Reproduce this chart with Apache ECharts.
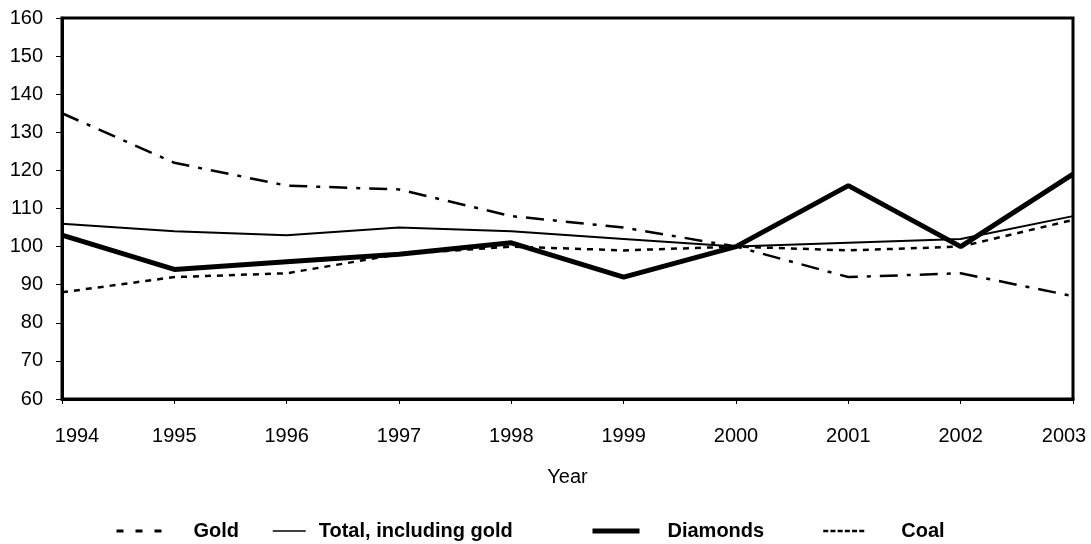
<!DOCTYPE html>
<html>
<head>
<meta charset="utf-8">
<script src="https://cdn.jsdelivr.net/npm/echarts@6/dist/echarts.min.js"></script>
<style>
  html, body { margin: 0; padding: 0; background: #fff; }
  #chart { width: 1091px; height: 544px; }
</style>
</head>
<body>
<div id="chart"></div>
<script>
const years = ['1994', '1995', '1996', '1997', '1998', '1999', '2000', '2001', '2002', '2003']
const gold = [88, 92, 93, 98, 100, 99, 100, 99, 100, 107]
const total = [106, 104, 103, 105, 104, 102, 100, 101, 102, 108]
const diamonds = [103, 94, 96, 98, 101, 92, 100, 116, 100, 119]
const coal = [135, 122, 116, 115, 108, 105, 100, 92, 93, 87]

const font = 'Arial, "Liberation Sans", sans-serif'
const chart = echarts.init(document.getElementById('chart'))

// one legend per series so each marker/text gap can be matched
function legendAt(left, name, itemWidth, lineStyle, pad) {
  return {
    left: left,
    top: 521,
    padding: 0,
    itemWidth: itemWidth,
    itemHeight: 12,
    data: [{ name: name, lineStyle: lineStyle, itemStyle: { opacity: 0 } }],
    selectedMode: false,
    textStyle: { fontFamily: font, fontSize: 20, fontWeight: 'bold', color: '#000', padding: [0, 0, 0, pad] }
  }
}

chart.setOption({
  animation: false,
  backgroundColor: '#fff',
  grid: { left: 62, right: 18, top: 18, bottom: 145, show: true, borderColor: '#000', borderWidth: 3 },
  legend: [
    legendAt(115, 'Gold', 45, { type: [7, 12], width: 3, color: '#000' }, 27),
    legendAt(272, 'Total, including gold', 33, { type: 'solid', width: 1.5, color: '#000' }, 8),
    legendAt(590, 'Diamonds', 47, { type: 'solid', width: 5, color: '#000' }, 23),
    legendAt(822, 'Coal', 41, { type: [5, 2.2], width: 2.5, color: '#000' }, 32)
  ],
  xAxis: {
    type: 'category',
    data: years,
    boundaryGap: false,
    name: 'Year',
    nameLocation: 'middle',
    nameGap: 68,
    nameTextStyle: { fontFamily: font, fontSize: 20, color: '#000' },
    axisLine: { lineStyle: { color: '#000', width: 3 } },
    axisTick: { show: true, interval: 0, length: 5, lineStyle: { color: '#000', width: 1 } },
    axisLabel: {
      interval: 0,
      fontFamily: font, fontSize: 20, color: '#000', margin: 27,
      formatter: (v, i) => i === 0 ? '{first|' + v + '}' : (i === years.length - 1 ? '{last|' + v + '}' : v),
      rich: {
        first: { fontFamily: font, fontSize: 20, color: '#000', padding: [0, 0, 0, 30] },
        last: { fontFamily: font, fontSize: 20, color: '#000', padding: [0, 18, 0, 0] }
      }
    },
    splitLine: { show: false }
  },
  yAxis: {
    type: 'value',
    min: 60,
    max: 160,
    interval: 10,
    axisLine: { show: true, lineStyle: { color: '#000', width: 3 } },
    axisTick: { show: true, length: 6, lineStyle: { color: '#000', width: 1 } },
    axisLabel: { fontFamily: font, fontSize: 20, color: '#000', margin: 19 },
    splitLine: { show: false }
  },
  series: [
    { name: 'Gold', type: 'line', data: gold, symbol: 'none', lineStyle: { color: '#000', width: 2.5, type: [6, 6] } },
    { name: 'Total, including gold', type: 'line', data: total, symbol: 'none', lineStyle: { color: '#000', width: 2 } },
    { name: 'Diamonds', type: 'line', data: diamonds, symbol: 'none', lineStyle: { color: '#000', width: 5 } },
    { name: 'Coal', type: 'line', data: coal, symbol: 'none', lineStyle: { color: '#000', width: 2.5, type: [18, 9, 4, 9] } }
  ]
})
</script>
</body>
</html>
